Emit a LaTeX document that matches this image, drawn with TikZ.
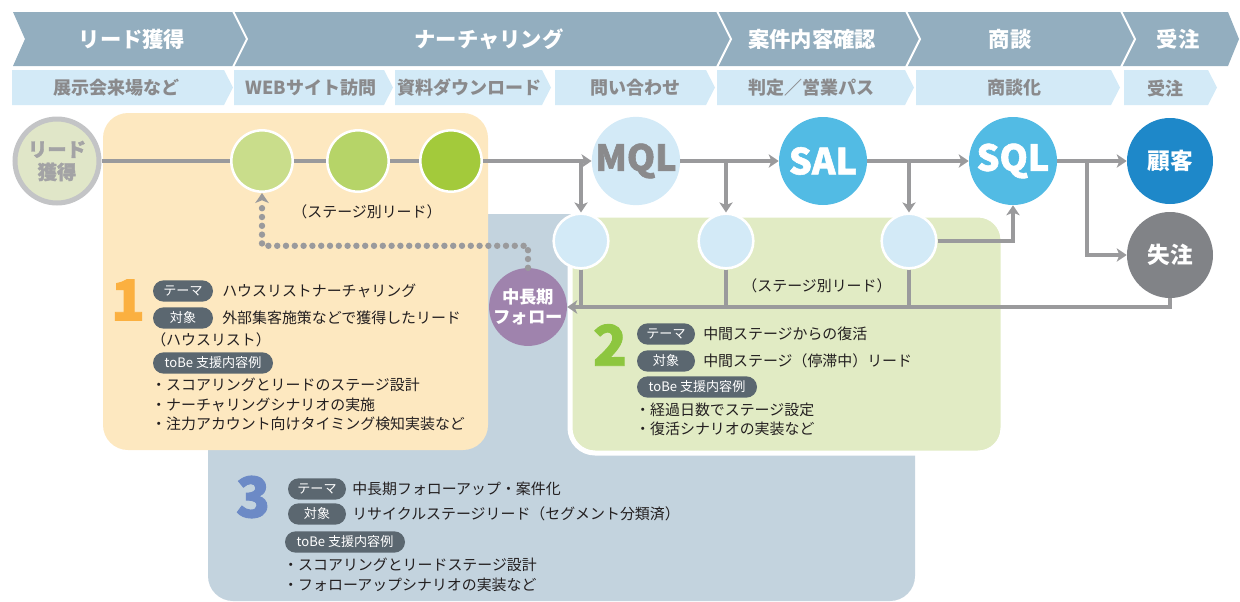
\documentclass[tikz,border=0pt]{standalone}
\usepackage{fontspec}
\setmainfont{Noto Sans CJK JP}
\newfontfamily\heavy{Noto Sans CJK JP}[BoldFeatures={FakeBold=1.6}]
\usetikzlibrary{arrows.meta,calc}
\definecolor{bandc}{HTML}{93AEBF}
\definecolor{rowc}{HTML}{D3EAF7}
\definecolor{rowtc}{HTML}{8A8A8C}
\definecolor{box1c}{HTML}{FDE8C0}
\definecolor{box2c}{HTML}{E1EBC4}
\definecolor{box3c}{HTML}{C3D3DE}
\definecolor{connc}{HTML}{9A9A9C}
\definecolor{leadfill}{HTML}{E0E6C8}
\definecolor{leadbord}{HTML}{C3C4C6}
\definecolor{leadtext}{HTML}{A3A3A5}
\definecolor{gA}{HTML}{C9DD8B}
\definecolor{gB}{HTML}{B6D468}
\definecolor{gC}{HTML}{A3CA3B}
\definecolor{lightb}{HTML}{D3EAF7}
\definecolor{midb}{HTML}{52BBE4}
\definecolor{darkb}{HTML}{1E88C9}
\definecolor{lostc}{HTML}{818387}
\definecolor{purp}{HTML}{9F83AD}
\definecolor{pillc}{HTML}{5B6770}
\definecolor{bodyc}{HTML}{231F20}
\definecolor{orc}{HTML}{FBB040}
\definecolor{grc}{HTML}{8DC63F}
\definecolor{blc}{HTML}{6C8AC6}
\begin{document}
\begin{tikzpicture}[x=0.75pt,y=-0.75pt,
 conn/.style={draw=connc, line width=3pt},
 arr/.style={-{Stealth[length=7.5pt,width=10pt,inset=2pt]}},
 dots/.style={draw=connc, line width=4.8pt, line cap=round, dash pattern=on 0pt off 6.6pt},
 circ/.style={circle, inner sep=0pt, align=center},
 pill/.style={fill=pillc, text=white, rounded corners=8pt, minimum height=16pt, inner sep=0pt, font=\fontsize{9.8}{10}\selectfont},
 body/.style={anchor=west, inner sep=0pt, text=bodyc, font=\fontsize{11.2}{13}\selectfont},
 bandt/.style={text=white, font=\bfseries\fontsize{16}{18}\selectfont},
 rowt/.style={text=rowtc, font=\bfseries\fontsize{13.5}{15}\selectfont},
 num/.style={inner sep=0pt, font=\heavy\bfseries\fontsize{42}{42}\selectfont},
 big/.style={font=\heavy\bfseries\fontsize{27}{27}\selectfont},
]
\useasboundingbox (0,0) rectangle (1240,601);
% top band
\fill[bandc] (13,12) -- (1228,12) -- (1239,39) -- (1228,66) -- (13,66) -- (25,39) -- cycle;
\foreach \s in {233,717,906,1121}
  \draw[white, line width=1.5pt] (\s,11) -- ({\s+14},39) -- (\s,67);
\node[bandt] (h1) at (132,39) {リード獲得};
\node[bandt] (h2) at (489,39) {ナーチャリング};
\node[bandt] (h3) at (812,39) {案件内容確認};
\node[bandt] (h4) at (1010,39) {商談};
\node[bandt] (h5) at (1178,39) {受注};
% second row
\foreach \l/\t in {12/233,234/393,395/551,555/715,717/914,916/1120,1124/1217}
  \fill[rowc] (\l,70) -- ({\t-9},70) -- (\t,87.5) -- ({\t-9},105) -- (\l,105) -- cycle;
\node[rowt] (r1) at (116,88) {展示会来場など};
\node[rowt] (r2) at (311,88) {WEBサイト訪問};
\node[rowt] (r3) at (469,88) {資料ダウンロード};
\node[rowt] (r4) at (635,88) {問い合わせ};
\node[rowt] (r5) at (811,88) {判定／営業パス};
\node[rowt] (r6) at (1014,88) {商談化};
\node[rowt] (r7) at (1165,88) {受注};
% boxes
\fill[box3c, rounded corners=18.75pt] (208,214) rectangle (915,601);
\fill[box1c, rounded corners=18.75pt] (103,113) rectangle (488,450);
\filldraw[fill=box2c, draw=white, line width=3.75pt, rounded corners=18.75pt] (570,215) rectangle (1003,453);
% circles
\node[circ, fill=leadfill, draw=leadbord, line width=3.75pt, minimum size=63pt, text=leadtext, font=\heavy\bfseries\fontsize{14.5}{17}\selectfont] (lead) at (57,161) {リード\\獲得};
\node[circ, fill=gA, draw=white, line width=1.9pt, minimum size=46pt] (g1) at (262,161) {};
\node[circ, fill=gB, draw=white, line width=1.9pt, minimum size=46pt] (g2) at (358,161) {};
\node[circ, fill=gC, draw=white, line width=1.9pt, minimum size=46pt] (g3) at (451,161) {};
\node[circ, big, fill=lightb, minimum size=66pt, text=rowtc] (mql) at (636,161) {MQL};
\node[circ, big, fill=midb, minimum size=66pt, text=white] (sal) at (823,161) {SAL};
\node[circ, big, fill=midb, minimum size=66pt, text=white] (sqlc) at (1013,161) {SQL};
\node[circ, fill=darkb, minimum size=64.5pt, text=white, font=\bfseries\fontsize{17}{17}\selectfont] (kok) at (1170,161) {顧客};
\node[circ, fill=lostc, minimum size=64.5pt, text=white, font=\bfseries\fontsize{17}{17}\selectfont] (shi) at (1170,255) {失注};
\node[circ, fill=lightb, draw=white, line width=1.9pt, minimum size=41pt] (s1) at (581,241) {};
\node[circ, fill=lightb, draw=white, line width=1.9pt, minimum size=41pt] (s2) at (726,241) {};
\node[circ, fill=lightb, draw=white, line width=1.9pt, minimum size=41pt] (s3) at (909,241) {};
\node[circ, fill=purp, minimum size=57pt, text=white, font=\bfseries\fontsize{13}{14.5}\selectfont] (fol) at (528,307) {中長期\\フォロー};
% connectors
\draw[conn] (lead) -- (g1);
\draw[conn] (g1) -- (g2);
\draw[conn] (g2) -- (g3);
\draw[conn, arr] (g3) -- (mql);
\draw[conn, arr] (mql) -- (sal);
\draw[conn, arr] (sal) -- (sqlc);
\draw[conn, arr] (sqlc) -- (kok);
\draw[conn, arr] (s1 |- mql) -- (s1.north);
\draw[conn, arr] (s2 |- mql) -- (s2.north);
\draw[conn, arr] (s3 |- sal) -- (s3.north);
\draw[conn, arr] (s3.east) -| (sqlc.south);
\coordinate (b4) at (1087,161);
\draw[conn, arr] (b4) |- (shi.west);
\draw[conn, arr] (shi.south) |- (fol.east);
\draw[conn] (s1.south) -- (s1 |- fol.east);
\draw[conn] (s2.south) -- (s2 |- fol.east);
\draw[conn] (s3.south) -- (s3 |- fol.east);
\draw[dots, arr] (fol.north) -- ++(0,-22) -| (g1.south);
% stage labels
\node[body, anchor=center] (lab1) at (367,212) {（ステージ別リード）};
\node[body, anchor=center] (lab2) at (817,286) {（ステージ別リード）};
% box 1
\node[num, text=orc] (n1) at (128,300) {1};
\node[pill, minimum width=45pt] (t1) at (183,291) {テーマ};
\node[body] (t1v) at (222,291) {ハウスリストナーチャリング};
\node[pill, minimum width=45pt] (o1) at (183,318) {対象};
\node[body] (o1v) at (222,318) {外部集客施策などで獲得したリード};
\node[body] (o1w) at (151,340) {（ハウスリスト）};
\node[pill, minimum width=90pt] (b1) at (213,363) {toBe 支援内容例};
\node[body] (b1a) at (151,385) {・スコアリングとリードのステージ設計};
\node[body] (b1b) at (151,405) {・ナーチャリングシナリオの実施};
\node[body] (b1c) at (151,424) {・注力アカウント向けタイミング検知実装など};
% box 2
\node[num, text=grc] (n2) at (610,345) {2};
\node[pill, minimum width=43.5pt] (t2) at (666,334) {テーマ};
\node[body] (t2v) at (703,334) {中間ステージからの復活};
\node[pill, minimum width=43.5pt] (o2) at (666,361) {対象};
\node[body] (o2v) at (703,361) {中間ステージ（停滞中）リード};
\node[pill, minimum width=90pt] (b2) at (697,387) {toBe 支援内容例};
\node[body] (b2a) at (635,410) {・経過日数でステージ設定};
\node[body] (b2b) at (635,429) {・復活シナリオの実装など};
% box 3
\node[num, text=blc] (n3) at (253,497) {3};
\node[pill, minimum width=43.5pt] (t3) at (317,489) {テーマ};
\node[body] (t3v) at (352,489) {中長期フォローアップ・案件化};
\node[pill, minimum width=43.5pt] (o3) at (317,514) {対象};
\node[body] (o3v) at (352,514) {リサイクルステージリード（セグメント分類済）};
\node[pill, minimum width=90pt] (b3) at (345,542) {toBe 支援内容例};
\node[body] (b3a) at (283,565) {・スコアリングとリードステージ設計};
\node[body] (b3b) at (283,585) {・フォローアップシナリオの実装など};
\end{tikzpicture}
\end{document}
